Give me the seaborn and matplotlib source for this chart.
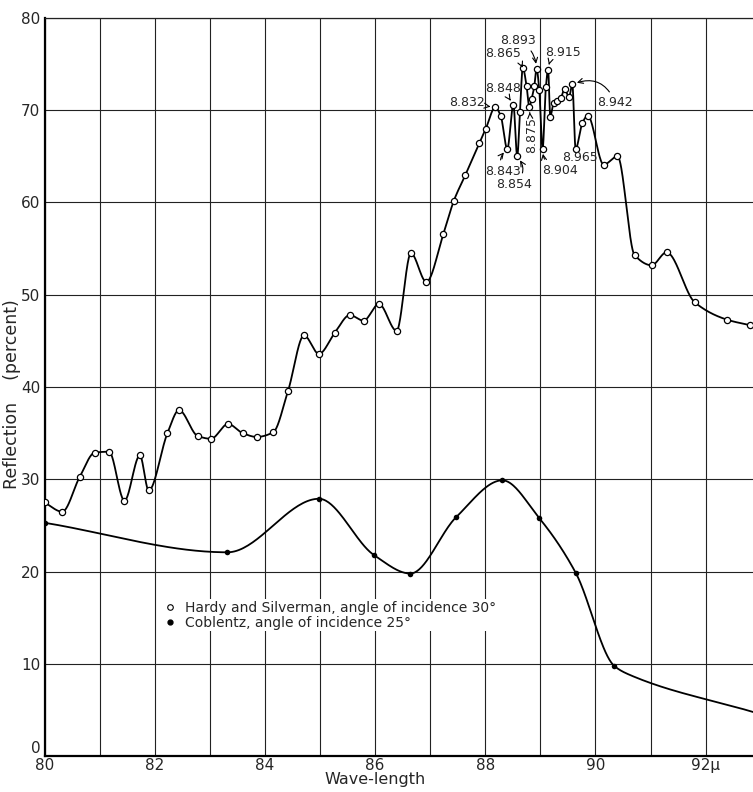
import numpy as np
import pandas as pd
import matplotlib
matplotlib.use("Agg")
import matplotlib.pyplot as plt
from matplotlib.lines import Line2D
import seaborn as sns

# --- data (wave-length in micron, reflection in percent) ---
hardy_x = [8.000, 8.032, 8.064, 8.091, 8.117, 8.145, 8.173, 8.189, 8.223, 8.244,
           8.278, 8.302, 8.333, 8.360, 8.385, 8.415, 8.442, 8.471, 8.498, 8.527,
           8.554, 8.579, 8.607, 8.639, 8.665, 8.693, 8.724, 8.743, 8.764, 8.789,
           8.801, 8.818, 8.828, 8.840, 8.851, 8.858, 8.863, 8.868, 8.875, 8.880,
           8.884, 8.889, 8.893, 8.898, 8.904, 8.910, 8.914, 8.918, 8.924, 8.931,
           8.937, 8.944, 8.952, 8.958, 8.964, 8.976, 8.986, 9.015, 9.040, 9.071,
           9.102, 9.129, 9.180, 9.239, 9.281]
hardy_y = [27.5, 26.5, 30.3, 32.9, 33.0, 27.7, 32.6, 28.8, 35.0, 37.5,
           34.7, 34.4, 36.0, 35.0, 34.6, 35.1, 39.6, 45.6, 43.6, 45.9,
           47.8, 47.2, 49.0, 46.1, 54.5, 51.4, 56.6, 60.2, 63.0, 66.4,
           68.0, 70.3, 69.4, 65.8, 70.6, 65.0, 69.8, 74.6, 72.6, 70.3,
           71.2, 72.6, 74.5, 72.2, 65.8, 72.5, 74.4, 69.3, 70.8, 71.0,
           71.3, 72.3, 71.4, 72.8, 65.8, 68.6, 69.4, 64.1, 65.0, 54.3,
           53.2, 54.6, 49.2, 47.3, 46.7]

coblentz_x = [8.000, 8.332, 8.498, 8.598, 8.664, 8.747, 8.831, 8.898, 8.964, 9.034]
coblentz_y = [25.3, 22.1, 27.9, 21.8, 19.8, 25.9, 29.9, 25.8, 19.9, 9.8]
# line continues past the last dot to the right edge
coblentz_tail_x = [9.063, 9.286]
coblentz_tail_y = [8.8, 4.8]

x_ticks = [8.0, 8.2, 8.4, 8.6, 8.8, 9.0, 9.2]
x_ticklabels = ["80", "82", "84", "86", "88", "90", "92\u03bc"]
y_ticks = [0, 10, 20, 30, 40, 50, 60, 70, 80]

# wavelength labels: text, point index in hardy series, text pos, arrow curvature, rotation
labels = [
    ("8.832", 31, (8.766, 70.8), 0.0, 0),
    ("8.848", 34, (8.832, 72.3), 0.0, 0),
    ("8.865", 37, (8.832, 76.1), -0.3, 0),
    ("8.893", 42, (8.859, 77.6), -0.3, 0),
    ("8.915", 46, (8.942, 76.2), 0.4, 0),
    ("8.942", 53, (9.036, 70.8), 0.5, 0),
    ("8.875", 39, (8.884, 67.3), 0.0, 90),
    ("8.843", 33, (8.832, 63.4), -0.4, 0),
    ("8.854", 35, (8.853, 62.0), 0.5, 0),
    ("8.904", 44, (8.935, 63.5), -0.4, 0),
]


def pchip(x, y, n=40):
    # monotone cubic (Fritsch-Carlson) to draw a smooth curve through the points
    x = np.asarray(x, float)
    y = np.asarray(y, float)
    h = np.diff(x)
    d = np.diff(y) / h
    m = np.zeros_like(y)
    for k in range(1, len(x) - 1):
        if d[k - 1] * d[k] > 0:
            w1 = 2 * h[k] + h[k - 1]
            w2 = h[k] + 2 * h[k - 1]
            m[k] = (w1 + w2) / (w1 / d[k - 1] + w2 / d[k])
    m[0] = d[0]
    m[-1] = d[-1]
    xs, ys = [], []
    for k in range(len(x) - 1):
        t = np.linspace(0, 1, n, endpoint=False)
        h00 = 2 * t**3 - 3 * t**2 + 1
        h10 = t**3 - 2 * t**2 + t
        h01 = -2 * t**3 + 3 * t**2
        h11 = t**3 - t**2
        xs.append(x[k] + t * h[k])
        ys.append(h00 * y[k] + h10 * h[k] * m[k] + h01 * y[k + 1] + h11 * h[k] * m[k + 1])
    xs.append([x[-1]])
    ys.append([y[-1]])
    return np.concatenate(xs), np.concatenate(ys)


sns.set_style("white")
plt.rcParams["font.family"] = ["DejaVu Sans"]

fig = plt.figure(figsize=(7.53, 7.92), dpi=100)
ax = fig.add_axes([0.0592, 0.0451, 0.9408, 0.9323])

hx, hy = pchip(hardy_x, hardy_y)
cx, cy = pchip(coblentz_x + coblentz_tail_x, coblentz_y + coblentz_tail_y)
curves = pd.concat([
    pd.DataFrame({"x": hx, "y": hy, "series": "hardy"}),
    pd.DataFrame({"x": cx, "y": cy, "series": "coblentz"}),
])
sns.lineplot(data=curves, x="x", y="y", units="series", estimator=None, sort=False,
             color="black", lw=1.3, ax=ax, legend=False)

sns.scatterplot(x=hardy_x, y=hardy_y, ax=ax, s=20, marker="o",
                facecolor="white", edgecolor="black", linewidth=0.9, zorder=5)
sns.scatterplot(x=coblentz_x, y=coblentz_y, ax=ax, s=16, marker="o",
                color="black", edgecolor="black", linewidth=0, zorder=5)

for text, i, (tx, ty), rad, rot in labels:
    ax.annotate(text, xy=(hardy_x[i], hardy_y[i]), xytext=(tx, ty),
                ha="center", va="center", fontsize=9, rotation=rot,
                arrowprops=dict(arrowstyle="->", color="black", lw=0.8,
                                shrinkA=1, shrinkB=3.5,
                                connectionstyle=f"arc3,rad={rad}"),
                zorder=6)
# 8.965 sits right under its point, no arrow
ax.text(8.972, 65.6, "8.965", ha="center", va="top", fontsize=9, zorder=6)

ax.set_xlim(8.0, 9.286)
ax.set_ylim(0, 80)
ax.set_xticks(x_ticks)
ax.set_xticklabels(x_ticklabels, fontsize=11)
ax.set_xticks(np.arange(8.1, 9.25, 0.2), minor=True)
ax.set_yticks(y_ticks)
ax.set_yticklabels([str(v) for v in y_ticks], fontsize=11)
ax.get_yticklabels()[0].set_va("bottom")
ax.tick_params(which="both", length=0)
ax.tick_params(axis="x", pad=1)
ax.tick_params(axis="y", pad=3)
ax.grid(True, which="both", color="#222222", lw=0.8)
ax.set_axisbelow(True)

for side in ["left", "bottom"]:
    ax.spines[side].set_linewidth(1.6)
    ax.spines[side].set_color("black")
ax.spines["top"].set_linewidth(0.9)
ax.spines["top"].set_color("#222222")
ax.spines["right"].set_visible(False)

ax.set_xlabel("")
ax.set_ylabel("Reflection    (percent)", fontsize=12.5, labelpad=2)
ax.yaxis.set_label_coords(-0.033, 0.49)
ax.text(8.6, -1.75, "Wave-length", ha="center", va="top", fontsize=11.5)

handles = [
    Line2D([], [], ls="none", marker="o", ms=4, mfc="white", mec="black", mew=0.8),
    Line2D([], [], ls="none", marker="o", ms=3.5, mfc="black", mec="black"),
]
ax.legend(handles, ["Hardy and Silverman, angle of incidence 30\u00b0",
                    "Coblentz, angle of incidence 25\u00b0"],
          loc="upper left", bbox_to_anchor=(0.155, 0.222), frameon=True,
          facecolor="white", edgecolor="none", framealpha=1,
          fontsize=10, handletextpad=0.6, labelspacing=0.1,
          borderpad=0.1, handlelength=1.0)

fig.savefig("out.png", dpi=100)
